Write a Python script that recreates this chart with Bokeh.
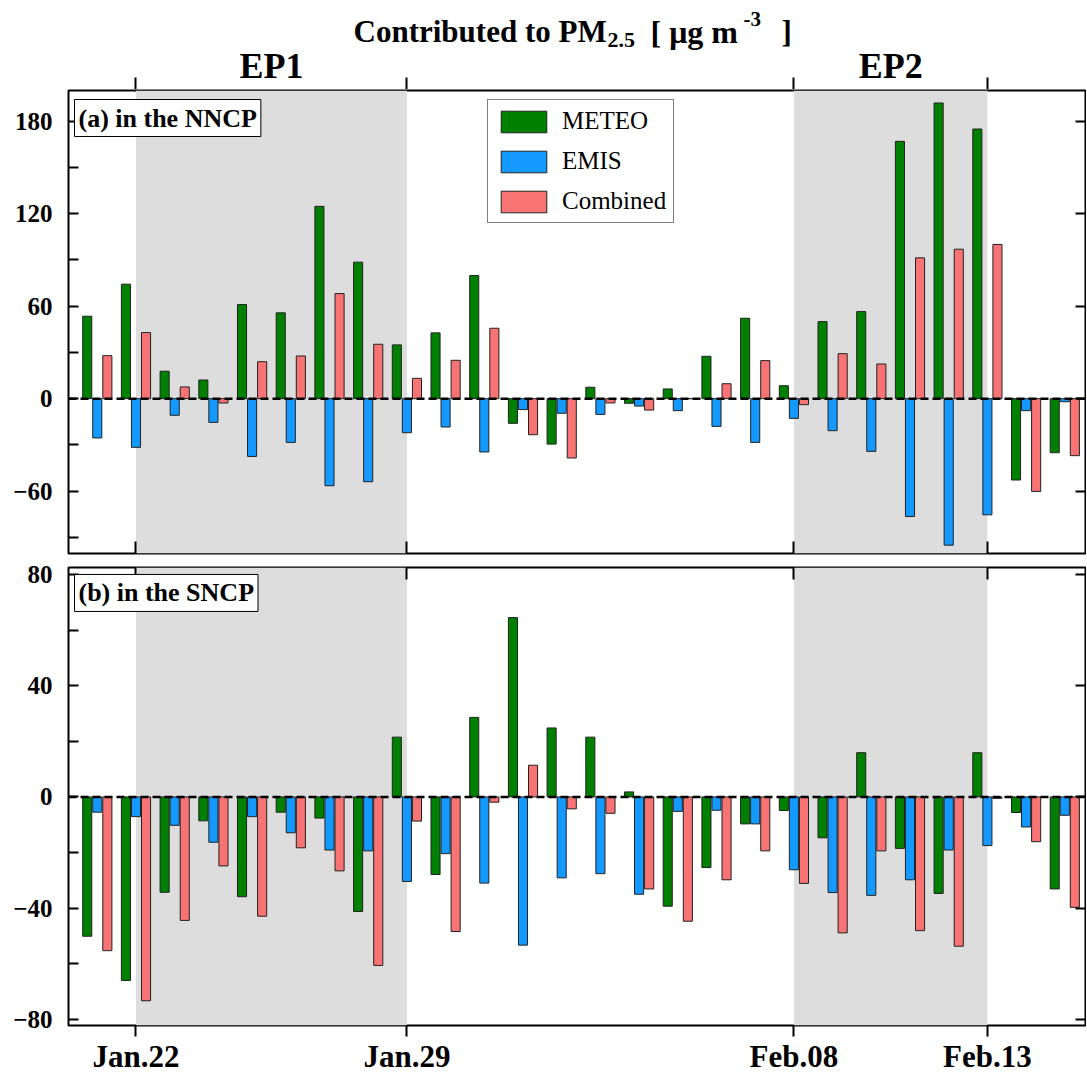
from bokeh.plotting import figure
from bokeh.models import (Range1d, FixedTicker, LinearAxis, Span, BoxAnnotation,
                          Label, Legend, LegendItem)
from bokeh.layouts import column
from bokeh.embed import file_html
from bokeh.resources import INLINE

# ---------------- data ----------------
days = list(range(26))  # 0 = Jan.21 ... 25 = Feb.15
tick_days = [1, 8, 18, 23]
tick_labels = ["Jan.22", "Jan.29", "Feb.08", "Feb.13"]
ep_periods = [(1, 8), (18, 23)]
ep_names = ["EP1", "EP2"]
series_names = ["METEO", "EMIS", "Combined"]

nncp_meteo = [53.5, 74.3, 17.8, 12.1, 61.1, 55.7, 124.8, 88.6, 34.9, 42.7, 79.9,
              -16.0, -29.5, 7.4, -3.0, 6.3, 27.5, 52.2, 8.4, 50.0, 56.5, 167.0, 191.9, 175.0, -52.8, -35.1]
nncp_emis = [-25.5, -31.6, -10.8, -15.4, -37.5, -28.4, -56.5, -53.9, -22.1, -18.4, -34.6,
             -7.1, -9.5, -10.2, -4.8, -7.8, -18.0, -28.4, -12.8, -20.8, -34.2, -76.5, -95.1, -75.4, -7.8, -2.0]
nncp_comb = [27.9, 42.9, 7.6, -2.8, 24.0, 27.7, 68.2, 35.3, 13.2, 24.9, 45.7,
             -23.4, -38.5, -2.8, -7.4, 0.0, 9.7, 24.7, -3.9, 29.2, 22.5, 91.4, 97.0, 100.1, -60.2, -37.0]

sncp_meteo = [-50.1, -66.0, -34.3, -8.6, -35.9, -5.5, -7.6, -41.2, 21.5, -27.9, 28.6,
              64.5, 24.8, 21.5, 1.8, -39.3, -25.4, -9.7, -4.9, -14.7, 15.9, -18.5, -34.7, 15.9, -5.6, -33.1]
sncp_emis = [-5.5, -7.1, -10.2, -16.3, -7.1, -12.9, -19.1, -19.4, -30.4, -20.4, -31.0,
             -53.3, -29.1, -27.6, -35.0, -5.2, -4.8, -9.7, -26.2, -34.4, -35.4, -29.8, -19.1, -17.5, -10.8, -6.6]
sncp_comb = [-55.3, -73.3, -44.4, -24.8, -42.9, -18.3, -26.6, -60.6, -8.7, -48.4, -1.9,
             11.4, -4.3, -5.9, -33.1, -44.7, -29.8, -19.4, -31.1, -48.9, -19.4, -48.1, -53.7, -0.5, -16.1, -39.7]

a_major = [-60, 0, 60, 120, 180]
a_minor = [-90, -30, 30, 90, 150]
b_major = [-80, -40, 0, 40, 80]
b_minor = [-60, -20, 20, 60]

# ---------------- style ----------------
FONT = "Liberation Serif"
COLORS = ["#008000", "#1399ff", "#f87373"]
OFFSETS = [-0.26, 0.0, 0.26]
BAR_W = 0.235
W = 1086
LEFT, RIGHT = 68, 1
FW = W - LEFT - RIGHT
X_START = -0.744
X_END = X_START + FW / 38.7

H0 = 89                      # header (title + EP labels + top ticks of panel a)
H1, TOP1, BOT1 = 470, 1, 6   # panel (a)
H2, TOP2, BOT2 = 517, 8, 48  # panel (b)
YA = (-100.5, 200.0)
YB = (-82.2, 82.5)
HDR_SHIFT = 11               # measured baseline offset of header labels


def px_to_x(px):
    return X_START + (px - LEFT) / FW * (X_END - X_START)


def py_to_ya(py):
    top = H0 + TOP1
    fh = H1 - TOP1 - BOT1
    return YA[1] - (py - top) / fh * (YA[1] - YA[0])


def py_to_yb(py):
    top = H0 + H1 + TOP2
    fh = H2 - TOP2 - BOT2
    return YB[1] - (py - top) / fh * (YB[1] - YB[0])


def py_to_yh(py):
    return H0 - (py - HDR_SHIFT)


def base_fig(height, top, bottom, yr):
    p = figure(width=W, height=height, x_range=Range1d(X_START, X_END),
               y_range=Range1d(*yr), output_backend="svg", toolbar_location=None,
               min_border_left=LEFT, min_border_right=RIGHT,
               min_border_top=top, min_border_bottom=bottom,
               x_axis_location=None, y_axis_location=None, title=None)
    p.grid.visible = False
    p.background_fill_color = "white"
    p.border_fill_color = "white"
    return p


def make_fig(height, top, bottom, yr):
    p = base_fig(height, top, bottom, yr)
    p.outline_line_color = "black"
    p.outline_line_width = 2
    for (a, b) in ep_periods:
        p.add_layout(BoxAnnotation(left=a, right=b, fill_color="#dddddd",
                                   fill_alpha=1.0, line_color=None, level="underlay"))
    return p


def add_axis(p, side, ticks, minor=None, tin=0, tout=0, overrides=None,
             size="0px", standoff=0):
    ax = LinearAxis(ticker=FixedTicker(ticks=ticks, minor_ticks=minor or []))
    ax.axis_line_color = None
    ax.major_tick_in = tin
    ax.major_tick_out = tout
    ax.minor_tick_in = tin if minor else 0
    ax.minor_tick_out = 0
    ax.major_tick_line_width = 2
    ax.minor_tick_line_width = 2
    ax.major_tick_line_color = "black"
    ax.minor_tick_line_color = "black"
    ax.major_label_text_font = FONT
    ax.major_label_text_font_style = "bold"
    ax.major_label_text_color = "black"
    ax.major_label_text_font_size = size
    ax.major_label_standoff = standoff
    if overrides is not None:
        ax.major_label_overrides = overrides
    p.add_layout(ax, side)
    return ax


def add_bars(p, vals_list):
    rs = []
    for vals, off, col in zip(vals_list, OFFSETS, COLORS):
        r = p.vbar(x=[d + off for d in days], top=vals, bottom=0, width=BAR_W,
                   fill_color=col, line_color="#222222", line_width=1)
        rs.append(r)
    p.add_layout(Span(location=0, dimension="width", line_color="black",
                      line_width=2.5, line_dash="8 4"))
    return rs


def panel_label(p, text, x, y):
    p.add_layout(Label(x=x, y=y, text=text, text_color="black",
                       text_font=FONT, text_font_style="bold", text_font_size="26px",
                       text_align="left", text_baseline="top",
                       border_line_color="black", border_line_width=1,
                       background_fill_color="white", padding=4))


empty_x = {t: "" for t in tick_days}
xlab = dict(zip(tick_days, tick_labels))

# ---------------- header (title + EP labels) ----------------
hd = base_fig(H0, 0, 0, (0, H0))
hd.outline_line_color = None
# outward top ticks of panel (a), drawn upward from the header's bottom edge
add_axis(hd, "below", tick_days, None, tin=12, overrides=empty_x)

title_parts = [  # text, font px, left x (px), baseline y (px from top)
    ("Contributed to PM", 31, 353, 42),
    ("2.5", 22, 607, 50),
    ("[ \u03bcg m", 32, 650, 42),
    ("-3", 21, 743, 29),
    ("]", 31, 781, 42),
]
for t, s, x, y in title_parts:
    hd.add_layout(Label(x=px_to_x(x), y=py_to_yh(y), text=t, text_color="black",
                        text_font=FONT, text_font_style="bold", text_font_size=f"{s}px",
                        text_align="left", text_baseline="alphabetic"))

for (a, b), name in zip(ep_periods, ep_names):
    hd.add_layout(Label(x=(a + b) / 2, y=py_to_yh(76), text=name,
                        text_color="black", text_font=FONT, text_font_style="bold",
                        text_font_size="36px", text_align="center",
                        text_baseline="alphabetic"))

# ---------------- panel (a) ----------------
pa = make_fig(H1, TOP1, BOT1, YA)
ra = add_bars(pa, [nncp_meteo, nncp_emis, nncp_comb])
add_axis(pa, "left", a_major, a_minor, tin=10, size="25px", standoff=16)
add_axis(pa, "right", a_major, None, tin=10, overrides={t: "" for t in a_major})
add_axis(pa, "below", tick_days, None, tin=12, overrides=empty_x)

legend = Legend(items=[LegendItem(label=n, renderers=[r]) for n, r in zip(series_names, ra)],
                location=(419, 330), orientation="vertical",
                label_text_font=FONT, label_text_font_size="25px", label_text_color="black",
                glyph_width=57, glyph_height=27, spacing=12, padding=7, margin=0,
                label_standoff=10, border_line_color="black", border_line_width=1,
                background_fill_color="white", background_fill_alpha=1.0)
pa.add_layout(legend)
panel_label(pa, "(a) in the NNCP", px_to_x(74), py_to_ya(99))

# ---------------- panel (b) ----------------
pb = make_fig(H2, TOP2, BOT2, YB)
add_bars(pb, [sncp_meteo, sncp_emis, sncp_comb])
add_axis(pb, "left", b_major, b_minor, tin=10, size="25px", standoff=16)
add_axis(pb, "right", b_major, None, tin=10, overrides={t: "" for t in b_major})
add_axis(pb, "above", tick_days, None, tin=12, overrides=empty_x)
add_axis(pb, "below", tick_days, None, tout=11, overrides=xlab, size="31px", standoff=2)
panel_label(pb, "(b) in the SNCP", px_to_x(74), py_to_yb(574))

layout = column(hd, pa, pb, spacing=0)
open("out.html", "w").write(file_html(layout, INLINE))
